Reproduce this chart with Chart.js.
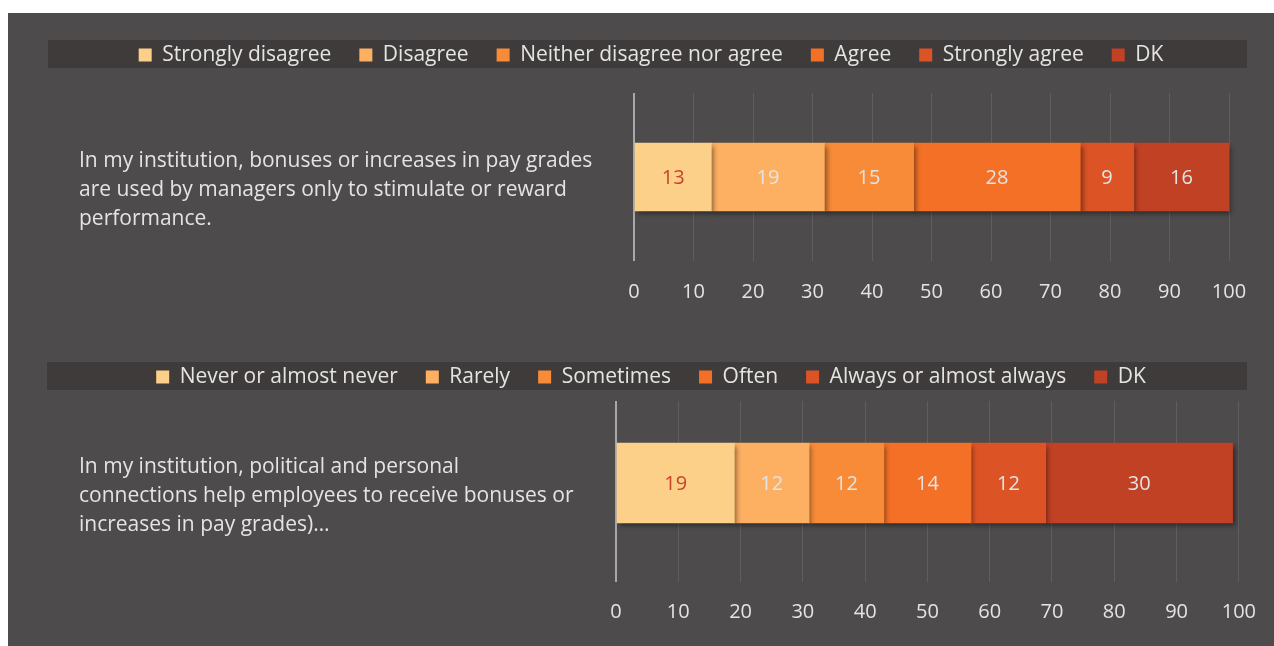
<!DOCTYPE html>
<html>
<head>
<meta charset="utf-8">
<script src="https://cdn.jsdelivr.net/npm/chart.js@4"></script>
<style>
  html, body { margin: 0; padding: 0; background: #ffffff; }
  body { width: 1274px; height: 646px; position: relative; overflow: hidden; }
  #panel { position: absolute; left: 8px; top: 13px; width: 1266px; height: 633px; background: #4d4b4b; }
  canvas { position: absolute; left: 0; }
  #agreement { top: 13px; }
  #frequency { top: 333px; }
</style>
</head>
<body>
<div id="panel"></div>
<canvas id="agreement" width="1274" height="320"></canvas>
<canvas id="frequency" width="1274" height="313"></canvas>
<script>
const agreeLabels = ['Strongly disagree', 'Disagree', 'Neither disagree nor agree', 'Agree', 'Strongly agree', 'DK'];
const agreeValues = [13, 19, 15, 28, 9, 16];
const agreeQuestion = ['In my institution, bonuses or increases in pay grades', 'are used by managers only to stimulate or reward', 'performance.'];

const freqLabels = ['Never or almost never', 'Rarely', 'Sometimes', 'Often', 'Always or almost always', 'DK'];
const freqValues = [19, 12, 12, 14, 12, 30];
const freqQuestion = ['In my institution, political and personal', 'connections help employees to receive bonuses or', 'increases in pay grades)…'];

const shades = ['#fdd089', '#fdb062', '#f78b38', '#f47026', '#dc5426', '#c14125'];

const FONT = '"Open Sans", Lato, sans-serif';
const TEXT = '#e4e4e4';
const LEGEND_SIZE = 21;
const LEGEND_PAD = 28;

// dark strip behind the legend, legend moved onto it
const legendBand = {
  id: 'legendBand',
  afterLayout(chart, args, opts) {
    const lg = chart.legend;
    lg.left = opts.center - 603;
    lg.right = opts.center + 603;
    lg.width = lg.right - lg.left;
    const h = lg.height;
    lg.top = opts.bandY + 1 - LEGEND_PAD - LEGEND_SIZE / 2;
    lg.bottom = lg.top + h;
  },
  beforeDraw(chart, args, opts) {
    const {ctx} = chart;
    ctx.save();
    ctx.fillStyle = '#3f3b3b';
    ctx.fillRect(opts.x0, opts.bandY - 14, opts.x1 - opts.x0, 28);
    ctx.restore();
  }
};

// soft drop shadow under the stacked bar
const barShadow = {
  id: 'barShadow',
  beforeDatasetsDraw(chart) {
    const {ctx} = chart;
    ctx.save();
    ctx.shadowColor = 'rgba(0, 0, 0, 0.45)';
    ctx.shadowBlur = 5;
    ctx.shadowOffsetX = 2;
    ctx.shadowOffsetY = 3;
  },
  afterDatasetsDraw(chart) {
    chart.ctx.restore();
  }
};

// value written in the middle of each segment
const segmentValues = {
  id: 'segmentValues',
  afterDatasetsDraw(chart) {
    const {ctx, data} = chart;
    ctx.save();
    ctx.font = '20px ' + FONT;
    ctx.textAlign = 'center';
    ctx.textBaseline = 'middle';
    data.datasets.forEach((ds, i) => {
      const bar = chart.getDatasetMeta(i).data[0];
      ctx.fillStyle = i === 0 ? '#c8432a' : TEXT;
      ctx.fillText(ds.data[0], (bar.x + bar.base) / 2, bar.y + 1);
    });
    ctx.restore();
  }
};

function makeChart(id, labels, values, question, cfg) {
  const datasets = labels.map((name, i) => ({
    label: name,
    data: [values[i]],
    backgroundColor: shades[i],
    borderWidth: 0,
    barThickness: cfg.barThickness,
    clip: false
  }));

  return new Chart(document.getElementById(id), {
    type: 'bar',
    data: { labels: [question], datasets },
    options: {
      indexAxis: 'y',
      responsive: false,
      animation: false,
      layout: { padding: { left: 79, right: cfg.padRight, top: cfg.padTop, bottom: 0 } },
      scales: {
        x: {
          stacked: true,
          min: 0,
          max: 100,
          ticks: { stepSize: 10, color: TEXT, font: { family: FONT, size: 20 }, padding: cfg.tickPad },
          grid: {
            color: (c) => c.index === 0 ? '#a8a8a8' : '#5f5d5d',
            lineWidth: (c) => c.index === 0 ? 2 : 1,
            drawTicks: cfg.tickLength > 0,
            tickLength: cfg.tickLength
          },
          border: { display: false },
          afterFit(scale) { scale.height = cfg.axisHeight; }
        },
        y: {
          stacked: true,
          grid: { display: false },
          border: { display: false },
          ticks: {
            crossAlign: 'far',
            labelOffset: 13,
            color: TEXT,
            font: { family: FONT, size: 21, lineHeight: 1.38 }
          },
          afterFit(scale) {
            scale.width = cfg.axisWidth;
            scale.paddingTop = 0;
            scale.paddingBottom = 0;
          }
        }
      },
      plugins: {
        legend: {
          position: 'top',
          labels: {
            color: TEXT,
            boxWidth: 13,
            boxHeight: 13,
            padding: LEGEND_PAD,
            font: { family: FONT, size: LEGEND_SIZE }
          }
        },
        tooltip: { enabled: false },
        legendBand: { center: 651, bandY: cfg.bandY, x0: cfg.bandLeft, x1: 1247 }
      }
    },
    plugins: [legendBand, barShadow, segmentValues]
  });
}

makeChart('agreement', agreeLabels, agreeValues, agreeQuestion, {
  padTop: 21, padRight: 45, axisWidth: 555, axisHeight: 72,
  tickPad: 19, tickLength: 0, barThickness: 68, bandY: 41, bandLeft: 48
});

makeChart('frequency', freqLabels, freqValues, freqQuestion, {
  padTop: 9, padRight: 31, axisWidth: 537, axisHeight: 81,
  tickPad: 18, tickLength: 17, barThickness: 80, bandY: 43, bandLeft: 47
});
</script>
</body>
</html>
